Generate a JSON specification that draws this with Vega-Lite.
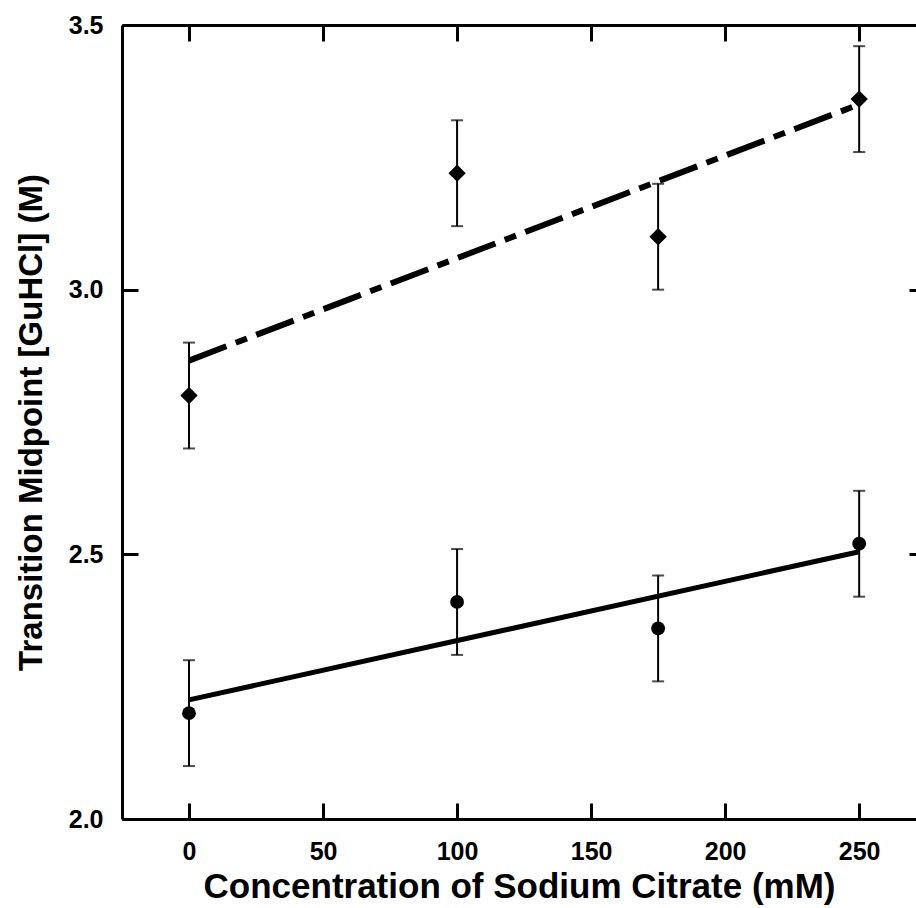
{
  "$schema": "https://vega.github.io/schema/vega-lite/v6.json",
  "width": 794,
  "height": 794,
  "autosize": {"type": "none"},
  "padding": {"left": 122, "top": 25, "right": 0, "bottom": 89},
  "background": "white",
  "config": {
    "view": {"stroke": null},
    "font": "Liberation Sans",
    "axis": {
      "domainColor": "black", "domainWidth": 3, "tickColor": "black", "tickWidth": 3,
      "tickSize": -16, "grid": false, "labelFont": "Liberation Sans", "labelFontWeight": "bold",
      "labelFontSize": 25, "labelColor": "black", "titleFont": "Liberation Sans",
      "titleFontWeight": "bold", "titleColor": "black", "labelFlush": false, "labelOverlap": false
    }
  },
  "datasets": {
    "points": [
      {"series": "circle", "conc": 0, "mid": 2.20, "lo": 2.10, "hi": 2.30},
      {"series": "circle", "conc": 100, "mid": 2.41, "lo": 2.31, "hi": 2.51},
      {"series": "circle", "conc": 175, "mid": 2.36, "lo": 2.26, "hi": 2.46},
      {"series": "circle", "conc": 250, "mid": 2.52, "lo": 2.42, "hi": 2.62},
      {"series": "diamond", "conc": 0, "mid": 2.80, "lo": 2.70, "hi": 2.90},
      {"series": "diamond", "conc": 100, "mid": 3.22, "lo": 3.12, "hi": 3.32},
      {"series": "diamond", "conc": 175, "mid": 3.10, "lo": 3.00, "hi": 3.20},
      {"series": "diamond", "conc": 250, "mid": 3.36, "lo": 3.26, "hi": 3.46}
    ],
    "fits": [
      {"series": "circle", "conc": 0, "mid": 2.225},
      {"series": "circle", "conc": 250, "mid": 2.505},
      {"series": "diamond", "conc": 0, "mid": 2.866},
      {"series": "diamond", "conc": 250, "mid": 3.350}
    ]
  },
  "resolve": {"axis": {"x": "independent", "y": "independent"}},
  "layer": [
    {
      "data": {"name": "fits"},
      "transform": [{"filter": "datum.series === 'circle'"}],
      "mark": {"type": "line", "color": "black", "strokeWidth": 5},
      "encoding": {
        "x": {"field": "conc", "type": "quantitative",
              "scale": {"domain": [-25, 271.2], "nice": false, "zero": false},
              "axis": {"orient": "bottom", "values": [0, 50, 100, 150, 200, 250], "labelPadding": 36,
                       "title": "Concentration of Sodium Citrate (mM)", "titleFontSize": 35, "titlePadding": 5}},
        "y": {"field": "mid", "type": "quantitative",
              "scale": {"domain": [2, 3.5], "nice": false, "zero": false},
              "axis": {"orient": "left", "values": [2, 2.5, 3, 3.5], "format": ".1f", "labelPadding": 35,
                       "title": "Transition Midpoint [GuHCl] (M)", "titleFontSize": 33, "titlePadding": 20}}
      }
    },
    {
      "data": {"name": "fits"},
      "transform": [{"filter": "datum.series === 'diamond'"}],
      "mark": {"type": "line", "color": "black", "strokeWidth": 6, "strokeDash": [40, 10, 12, 10]},
      "encoding": {
        "x": {"field": "conc", "type": "quantitative",
              "axis": {"orient": "top", "values": [0, 50, 100, 150, 200, 250], "labels": false, "title": null}},
        "y": {"field": "mid", "type": "quantitative",
              "axis": {"orient": "right", "offset": 9, "values": [2, 2.5, 3, 3.5], "labels": false, "title": null}}
      }
    },
    {
      "data": {"name": "points"},
      "mark": {"type": "rule", "color": "black", "strokeWidth": 2},
      "encoding": {
        "x": {"field": "conc", "type": "quantitative", "axis": null},
        "y": {"field": "lo", "type": "quantitative", "axis": null},
        "y2": {"field": "hi"}
      }
    },
    {
      "data": {"name": "points"},
      "mark": {"type": "tick", "color": "black", "thickness": 2, "size": 12, "orient": "horizontal"},
      "encoding": {
        "x": {"field": "conc", "type": "quantitative", "axis": null},
        "y": {"field": "lo", "type": "quantitative", "axis": null}
      }
    },
    {
      "data": {"name": "points"},
      "mark": {"type": "tick", "color": "black", "thickness": 2, "size": 12, "orient": "horizontal"},
      "encoding": {
        "x": {"field": "conc", "type": "quantitative", "axis": null},
        "y": {"field": "hi", "type": "quantitative", "axis": null}
      }
    },
    {
      "data": {"name": "points"},
      "transform": [{"filter": "datum.series === 'diamond'"}],
      "mark": {"type": "point", "shape": "diamond", "filled": true, "color": "black", "size": 300, "opacity": 1},
      "encoding": {
        "x": {"field": "conc", "type": "quantitative", "axis": null},
        "y": {"field": "mid", "type": "quantitative", "axis": null}
      }
    },
    {
      "data": {"name": "points"},
      "transform": [{"filter": "datum.series === 'circle'"}],
      "mark": {"type": "point", "shape": "circle", "filled": true, "color": "black", "size": 190, "opacity": 1},
      "encoding": {
        "x": {"field": "conc", "type": "quantitative", "axis": null},
        "y": {"field": "mid", "type": "quantitative", "axis": null}
      }
    }
  ]
}
